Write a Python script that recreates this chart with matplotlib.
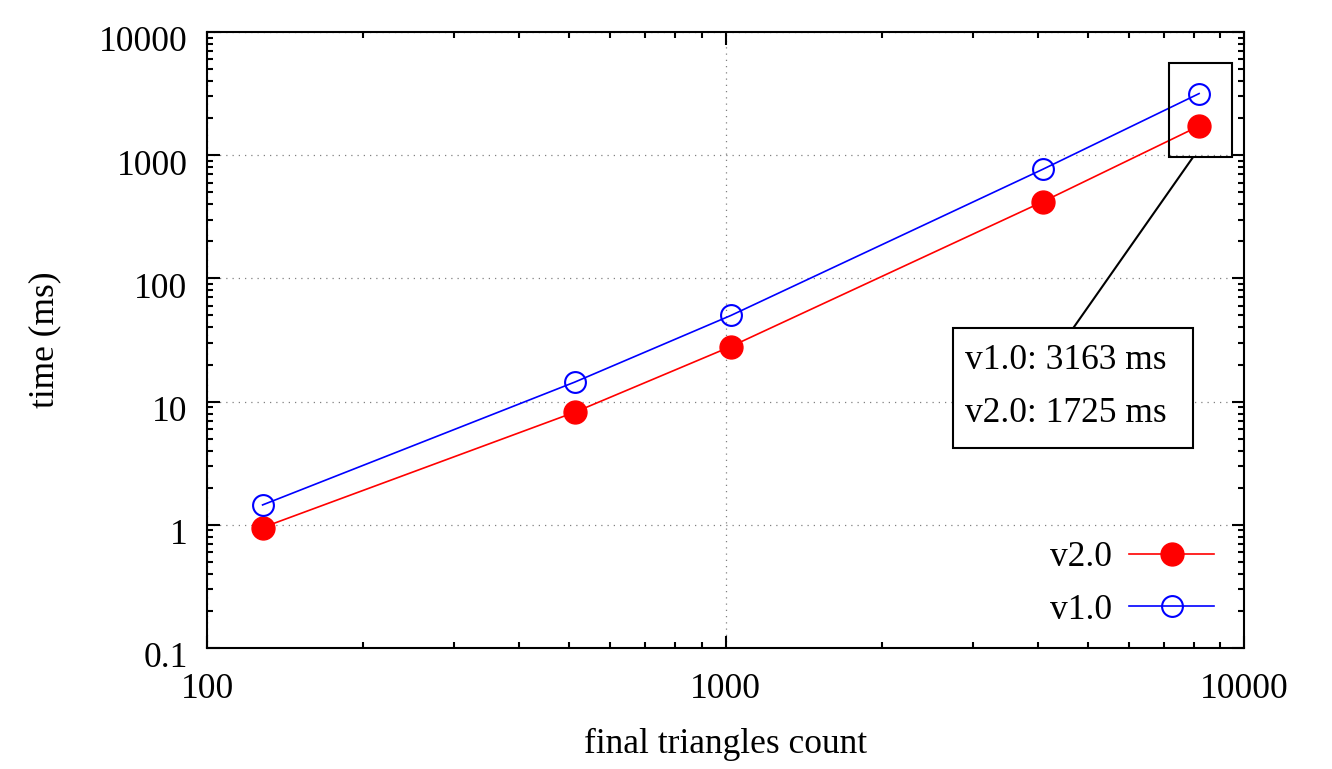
import matplotlib
matplotlib.use("Agg")
import matplotlib.pyplot as plt
import matplotlib.transforms as mtransforms
from matplotlib.patches import Rectangle

# triangles count on x, time in ms on y
triangles = [128, 512, 1024, 4096, 8192]
v10_ms = [1.45, 14.4, 50, 770, 3163]
v20_ms = [0.95, 8.2, 28, 420, 1725]
xticks = [100, 1000, 10000]
yticks = [0.1, 1, 10, 100, 1000, 10000]

plt.rcParams["font.family"] = ["Liberation Serif", "DejaVu Serif"]
plt.rcParams["font.size"] = 25.5

fig = plt.figure(figsize=(13.32, 7.69), dpi=100)
ax = fig.add_axes([207/1332, 121/769, 1037/1332, 616/769])

ax.loglog(triangles, v20_ms, "-", color="red", lw=1.2, marker="o", ms=16.5,
          mfc="red", mec="red", label="v2.0")
ax.loglog(triangles, v10_ms, "-", color="blue", lw=1.2, marker="o", ms=15,
          mfc="none", mec="blue", mew=1.5, label="v1.0")

ax.set_xlim(100, 10000)
ax.set_ylim(0.1, 10000)
ax.set_xticks(xticks, [str(t) for t in xticks])
ax.set_yticks(yticks, ["0.1", "1", "10", "100", "1000", "10000"])
ax.tick_params(which="both", direction="in", top=True, right=True, width=1.5)
ax.tick_params(which="major", length=9)
ax.tick_params(which="minor", length=4.5)
ax.tick_params(axis="x", pad=18)
ax.tick_params(axis="y", pad=14)
# gnuplot puts y labels a little below the tick
shift = mtransforms.ScaledTranslation(0, -5/72, fig.dpi_scale_trans)
for lab in ax.get_yticklabels():
    lab.set_transform(lab.get_transform() + shift)
for s in ax.spines.values():
    s.set_linewidth(1.5)
ax.grid(True, which="major", linestyle=(0, (1, 4)), color="gray", lw=0.9)

ax.set_xlabel("final triangles count", labelpad=16)
ax.set_ylabel("time (ms)", labelpad=27)

ax.legend(loc="lower right", bbox_to_anchor=(0.992, 0.0), frameon=False,
          markerfirst=False, handlelength=2.4, labelspacing=0.56,
          borderaxespad=0.2, handletextpad=0.5)

# box around last points and callout
ax.add_patch(Rectangle((0.9277, 0.797), 0.0607, 0.1527, transform=ax.transAxes,
                       fill=False, ec="black", lw=1.5, zorder=5))
ax.plot([0.9503, 0.836], [0.7955, 0.521], color="black", lw=1.5,
        transform=ax.transAxes, clip_on=False)
ax.add_patch(Rectangle((0.7194, 0.3247), 0.2314, 0.1948, transform=ax.transAxes,
                       fc="white", ec="black", lw=1.5, zorder=5))
ax.text(0.731, 0.4675, "v1.0: %d ms" % v10_ms[-1], transform=ax.transAxes,
        va="center", ha="left", zorder=6)
ax.text(0.731, 0.380, "v2.0: %d ms" % v20_ms[-1], transform=ax.transAxes,
        va="center", ha="left", zorder=6)

fig.savefig("out.png", dpi=100)
